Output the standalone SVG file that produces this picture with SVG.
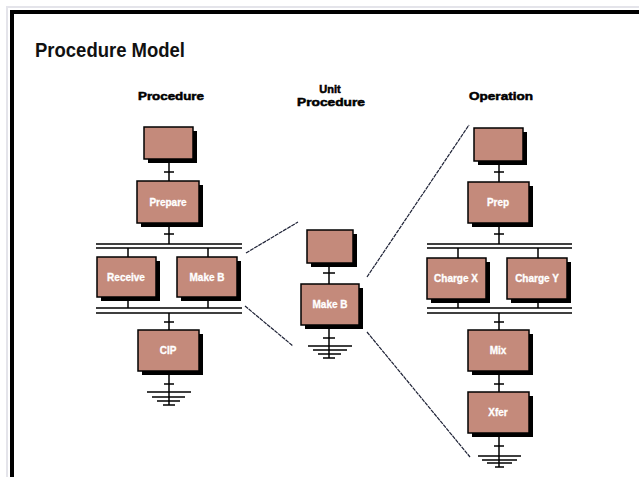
<svg xmlns="http://www.w3.org/2000/svg" width="639" height="477" viewBox="0 0 639 477">
  <style>
    .frame { fill: #000; }
    .title { font-family: "Liberation Sans Narrow", "Liberation Sans", Arial, sans-serif; font-weight: bold; font-size: 20px; fill: #111; }
    .head { font-family: "Liberation Sans", Arial, sans-serif; font-weight: bold; font-size: 11px; fill: #000; stroke: #000; stroke-width: 0.5; text-anchor: middle; }
    .box { fill: #c48a7b; stroke: #000; stroke-width: 1.5; }
    .shadow { fill: #000; }
    .lbl { font-family: "Liberation Sans", Arial, sans-serif; font-weight: bold; font-size: 10px; fill: #fff; stroke: #fff; stroke-width: 0.3; text-anchor: middle; }
    .ln { stroke: #000; stroke-width: 1.5; fill: none; }
    .link { stroke: #1e2236; stroke-width: 1.2; fill: none; stroke-dasharray: 4 0.8; }
  </style>

  <rect x="0" y="0" width="639" height="477" fill="#fff"/>
  <!-- page frame -->
  <rect x="6" y="6" width="633" height="2" fill="#e4e4ea"/>
  <rect x="6" y="6" width="2" height="471" fill="#e4e4ea"/>
  <rect class="frame" x="10" y="10" width="629" height="4"/>
  <rect class="frame" x="10" y="10" width="4" height="467"/>

  <text class="title" x="35" y="57" textLength="150" lengthAdjust="spacingAndGlyphs">Procedure Model</text>

  <!-- column headings -->
  <text class="head" x="171" y="100" textLength="66" lengthAdjust="spacingAndGlyphs">Procedure</text>
  <text class="head" x="330" y="93">Unit</text>
  <text class="head" x="331" y="106" textLength="68" lengthAdjust="spacingAndGlyphs">Procedure</text>
  <text class="head" x="501" y="100" textLength="64" lengthAdjust="spacingAndGlyphs">Operation</text>

  <!-- connectors: step links, transitions, parallel bars, end symbols, expansion lines -->
  <g id="connectors">
    <!-- procedure column -->
    <path class="ln" d="M169 159V181M164 172H174"/>
    <path class="ln" d="M169 223V244M164 234H174"/>
    <path class="ln" d="M96 244H242M96 248H242"/>
    <path class="ln" d="M128 248V257M208 248V257"/>
    <path class="ln" d="M128 297V308M208 297V308"/>
    <path class="ln" d="M96 308H242M96 313H242"/>
    <path class="ln" d="M169 313V330M164 322H174"/>
    <path class="ln" d="M169 371V405M164 384H174M147 392H191M152 397H185M157 401H180M163 405H175"/>

    <!-- unit procedure column -->
    <path class="ln" d="M329 263V284M323 273H335"/>
    <path class="ln" d="M329 325V358M323 338H335M308 346H352M313 350H347M318 354H341M323 358H335"/>

    <!-- operation column -->
    <path class="ln" d="M499 161V182M494 172H504"/>
    <path class="ln" d="M499 223V244M494 234H504"/>
    <path class="ln" d="M427 244H572M427 248H572"/>
    <path class="ln" d="M458 248V258M538 248V258"/>
    <path class="ln" d="M458 299V308M538 299V308"/>
    <path class="ln" d="M427 308H572M427 313H572"/>
    <path class="ln" d="M499 313V330M494 322H504"/>
    <path class="ln" d="M499 371V392M494 384H504"/>
    <path class="ln" d="M499 433V467M494 446H504M478 456H521M482 460H517M487 463H512M495 467H504"/>

    <!-- expansion lines between levels -->
    <path class="link" d="M246 253L298 222"/>
    <path class="link" d="M245 306L293 346"/>
    <path class="link" d="M367 277L469 125"/>
    <path class="link" d="M367 332L470 457"/>
  </g>

  <!-- procedure steps -->
  <g id="proc-init">
    <rect class="shadow" x="148" y="131" width="49" height="32"/>
    <rect class="box" x="144" y="127" width="49" height="32"/>
  </g>
  <g id="proc-prepare">
    <rect class="shadow" x="141" y="185" width="62" height="42"/>
    <rect class="box" x="137" y="181" width="62" height="42"/>
    <text class="lbl" x="168" y="206">Prepare</text>
  </g>
  <g id="proc-receive">
    <rect class="shadow" x="101" y="261" width="59" height="40"/>
    <rect class="box" x="97" y="257" width="59" height="40"/>
    <text class="lbl" x="126" y="281">Receive</text>
  </g>
  <g id="proc-make-b">
    <rect class="shadow" x="181" y="261" width="60" height="40"/>
    <rect class="box" x="177" y="257" width="60" height="40"/>
    <text class="lbl" x="207" y="281">Make B</text>
  </g>
  <g id="proc-cip">
    <rect class="shadow" x="142" y="334" width="61" height="41"/>
    <rect class="box" x="138" y="330" width="61" height="41"/>
    <text class="lbl" x="168" y="354">CIP</text>
  </g>

  <!-- unit procedure steps -->
  <g id="unit-init">
    <rect class="shadow" x="311" y="234" width="46" height="33"/>
    <rect class="box" x="307" y="230" width="46" height="33"/>
  </g>
  <g id="unit-make-b">
    <rect class="shadow" x="305" y="288" width="58" height="41"/>
    <rect class="box" x="301" y="284" width="58" height="41"/>
    <text class="lbl" x="330" y="308">Make B</text>
  </g>

  <!-- operation steps -->
  <g id="op-init">
    <rect class="shadow" x="478" y="132" width="49" height="33"/>
    <rect class="box" x="474" y="128" width="49" height="33"/>
  </g>
  <g id="op-prep">
    <rect class="shadow" x="472" y="186" width="61" height="41"/>
    <rect class="box" x="468" y="182" width="61" height="41"/>
    <text class="lbl" x="498" y="206">Prep</text>
  </g>
  <g id="op-charge-x">
    <rect class="shadow" x="431" y="262" width="59" height="41"/>
    <rect class="box" x="427" y="258" width="59" height="41"/>
    <text class="lbl" x="456" y="282">Charge X</text>
  </g>
  <g id="op-charge-y">
    <rect class="shadow" x="511" y="262" width="60" height="41"/>
    <rect class="box" x="507" y="258" width="60" height="41"/>
    <text class="lbl" x="537" y="282">Charge Y</text>
  </g>
  <g id="op-mix">
    <rect class="shadow" x="472" y="334" width="61" height="41"/>
    <rect class="box" x="468" y="330" width="61" height="41"/>
    <text class="lbl" x="498" y="354">Mix</text>
  </g>
  <g id="op-xfer">
    <rect class="shadow" x="472" y="396" width="61" height="41"/>
    <rect class="box" x="468" y="392" width="61" height="41"/>
    <text class="lbl" x="498" y="416">Xfer</text>
  </g>
</svg>
